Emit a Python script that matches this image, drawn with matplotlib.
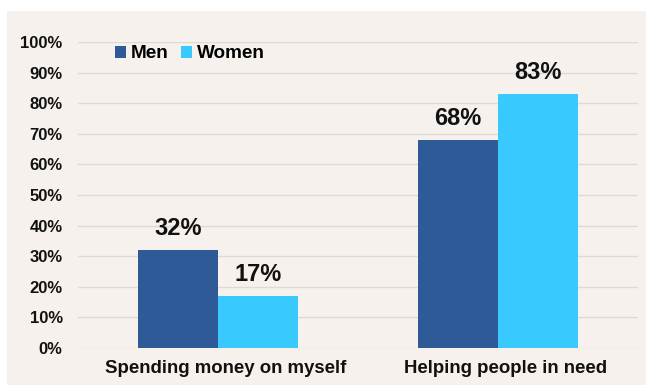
import numpy as np
import matplotlib.pyplot as plt
import matplotlib.transforms as mtransforms
from matplotlib.patches import Rectangle

plt.rcParams['font.family'] = ['Liberation Sans', 'DejaVu Sans']
plt.rcParams['font.weight'] = 'bold'

categories = ["Spending money on myself", "Helping people in need"]
men = [32, 68]
women = [17, 83]
yticks = [0, 10, 20, 30, 40, 50, 60, 70, 80, 90, 100]

bg = "#f6f1ed"
men_color = "#2e5a97"
women_color = "#38cafe"

fig = plt.figure(figsize=(6.46, 3.85), dpi=100)
fig.patch.set_facecolor("white")
# panel background, leaves a thin white border top/left
panel = Rectangle((7 / 646, 0), 1, 1 - 11 / 385, transform=fig.transFigure,
                  facecolor=bg, edgecolor="none", zorder=-10)
fig.add_artist(panel)

ax = fig.add_axes([78 / 646, 1 - 348 / 385, 560 / 646, 306 / 385])
ax.set_facecolor("none")
ax.set_zorder(1)

x = np.arange(len(categories))
w = 80 / 280
b1 = ax.bar(x - w / 2, men, w, color=men_color, label="Men", zorder=2)
b2 = ax.bar(x + w / 2, women, w, color=women_color, label="Women", zorder=2)

for bars, vals in ((b1, men), (b2, women)):
    for rect, v in zip(bars, vals):
        ax.annotate(f"{v}%", (rect.get_x() + rect.get_width() / 2, v),
                    xytext=(0, 7), textcoords="offset points",
                    ha="center", va="bottom", fontsize=17, fontweight="bold",
                    color="#111111")

ax.set_xlim(-0.5, 1.5)
ax.set_ylim(0, 100)
ax.set_yticks(yticks)
ax.set_yticklabels([f"{t}%" for t in yticks], fontsize=12, fontweight="bold")
ax.set_xticks(x)
ax.set_xticklabels(categories, fontsize=13.4, fontweight="bold")
ax.tick_params(axis="both", length=0, colors="#111111")
ax.tick_params(axis="y", pad=11)
ax.tick_params(axis="x", pad=8.5)
# category labels sit slightly right of the group centre
shift = mtransforms.ScaledTranslation(8 / 100, 0, fig.dpi_scale_trans)
for lbl in ax.get_xticklabels():
    lbl.set_transform(lbl.get_transform() + shift)
ax.grid(axis="y", color="#dedad6", linewidth=1, zorder=1)
for s in ax.spines.values():
    s.set_visible(False)

leg = ax.legend(loc="upper left", bbox_to_anchor=(0.035, 1.045), ncol=2, frameon=False,
                handlelength=0.6, handleheight=0.6, handletextpad=0.25,
                columnspacing=0.65, prop={"weight": "bold", "size": 13.6})

fig.savefig("out.png", dpi=100, facecolor=fig.get_facecolor())
